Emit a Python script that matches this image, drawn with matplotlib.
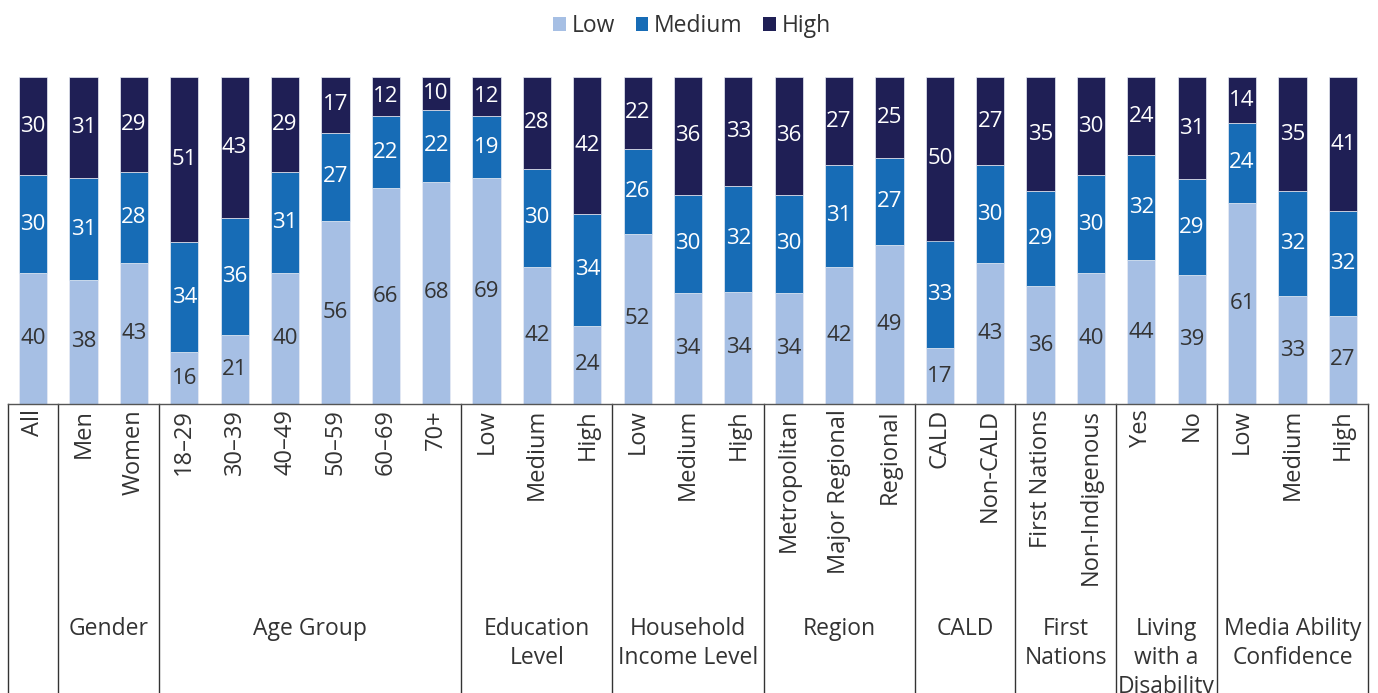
import numpy as np
import matplotlib.pyplot as plt
from matplotlib.patches import Patch

plt.rcParams['font.family'] = ['Open Sans', 'DejaVu Sans']

categories = ['All', 'Men', 'Women', '18–29', '30–39', '40–49', '50–59', '60–69', '70+',
              'Low', 'Medium', 'High', 'Low', 'Medium', 'High',
              'Metropolitan', 'Major Regional', 'Regional', 'CALD', 'Non-CALD',
              'First Nations', 'Non-Indigenous', 'Yes', 'No', 'Low', 'Medium', 'High']
low = [40, 38, 43, 16, 21, 40, 56, 66, 68, 69, 42, 24, 52, 34, 34,
       34, 42, 49, 17, 43, 36, 40, 44, 39, 61, 33, 27]
medium = [30, 31, 28, 34, 36, 31, 27, 22, 22, 19, 30, 34, 26, 30, 32,
          30, 31, 27, 33, 30, 29, 30, 32, 29, 24, 32, 32]
high = [30, 31, 29, 51, 43, 29, 17, 12, 10, 12, 28, 42, 22, 36, 33,
        36, 27, 25, 50, 27, 35, 30, 24, 31, 14, 35, 41]

groups = ['', 'Gender', 'Age Group', 'Education\nLevel', 'Household\nIncome Level',
          'Region', 'CALD', 'First\nNations', 'Living\nwith a\nDisability',
          'Media Ability\nConfidence']
group_sizes = [1, 2, 6, 3, 3, 3, 2, 2, 2, 3]

series = [('Low', low, '#a6bfe4', '#333333'),
          ('Medium', medium, '#176cb6', 'white'),
          ('High', high, '#1f1f55', 'white')]

FS = 16.5
W, H = 1378, 693
fig = plt.figure(figsize=(W / 100, H / 100), dpi=100)
ax = fig.add_axes([8 / W, (H - 404) / H, 1360 / W, 327 / H])

x = np.arange(len(categories))
totals = np.array(low) + np.array(medium) + np.array(high)
bottom = np.zeros(len(categories))
for name, vals, color, tcolor in series:
    share = np.array(vals) / totals * 100
    ax.bar(x, share, 0.56, bottom=bottom, color=color, edgecolor='#e8ecf5', linewidth=0.5)
    for xi, b, s, v in zip(x, bottom, share, vals):
        ax.text(xi, b + s / 2, str(v), ha='center', va='center', fontsize=16, color=tcolor)
    bottom += share

ax.set_xlim(-0.5, len(categories) - 0.5)
ax.set_ylim(0, 100)
ax.set_xticks([])
ax.set_yticks([])
for side in ['top', 'left', 'right']:
    ax.spines[side].set_visible(False)
ax.spines['bottom'].set_color('#555555')
ax.spines['bottom'].set_linewidth(1)

trans = ax.get_xaxis_transform()
y_floor = -(H - 404) / 327
for xi, label in zip(x, categories):
    ax.text(xi, -5 / 327, label, rotation=90, ha='center', va='top', fontsize=17,
            color='#333333', transform=trans)

# group separators and group names
edges = np.concatenate([[0], np.cumsum(group_sizes)]) - 0.5
for e in edges:
    ax.plot([e, e], [0, y_floor], color='#333333', lw=1, transform=trans, clip_on=False)
for g, a, b in zip(groups, edges[:-1], edges[1:]):
    ax.text((a + b) / 2, -(617 - 404) / 327, g, ha='center', va='top', fontsize=FS,
            color='#333333', linespacing=1.27, transform=trans)

handles = [Patch(facecolor=c, label=n) for n, _, c, _ in series]
fig.legend(handles=handles, loc='center', bbox_to_anchor=(692 / W, 1 - 26 / H), ncol=3,
           frameon=False, fontsize=FS, handlelength=0.55, handleheight=0.55,
           handletextpad=0.25, columnspacing=0.9, labelcolor='#333333')

fig.savefig('out.png', dpi=100)
